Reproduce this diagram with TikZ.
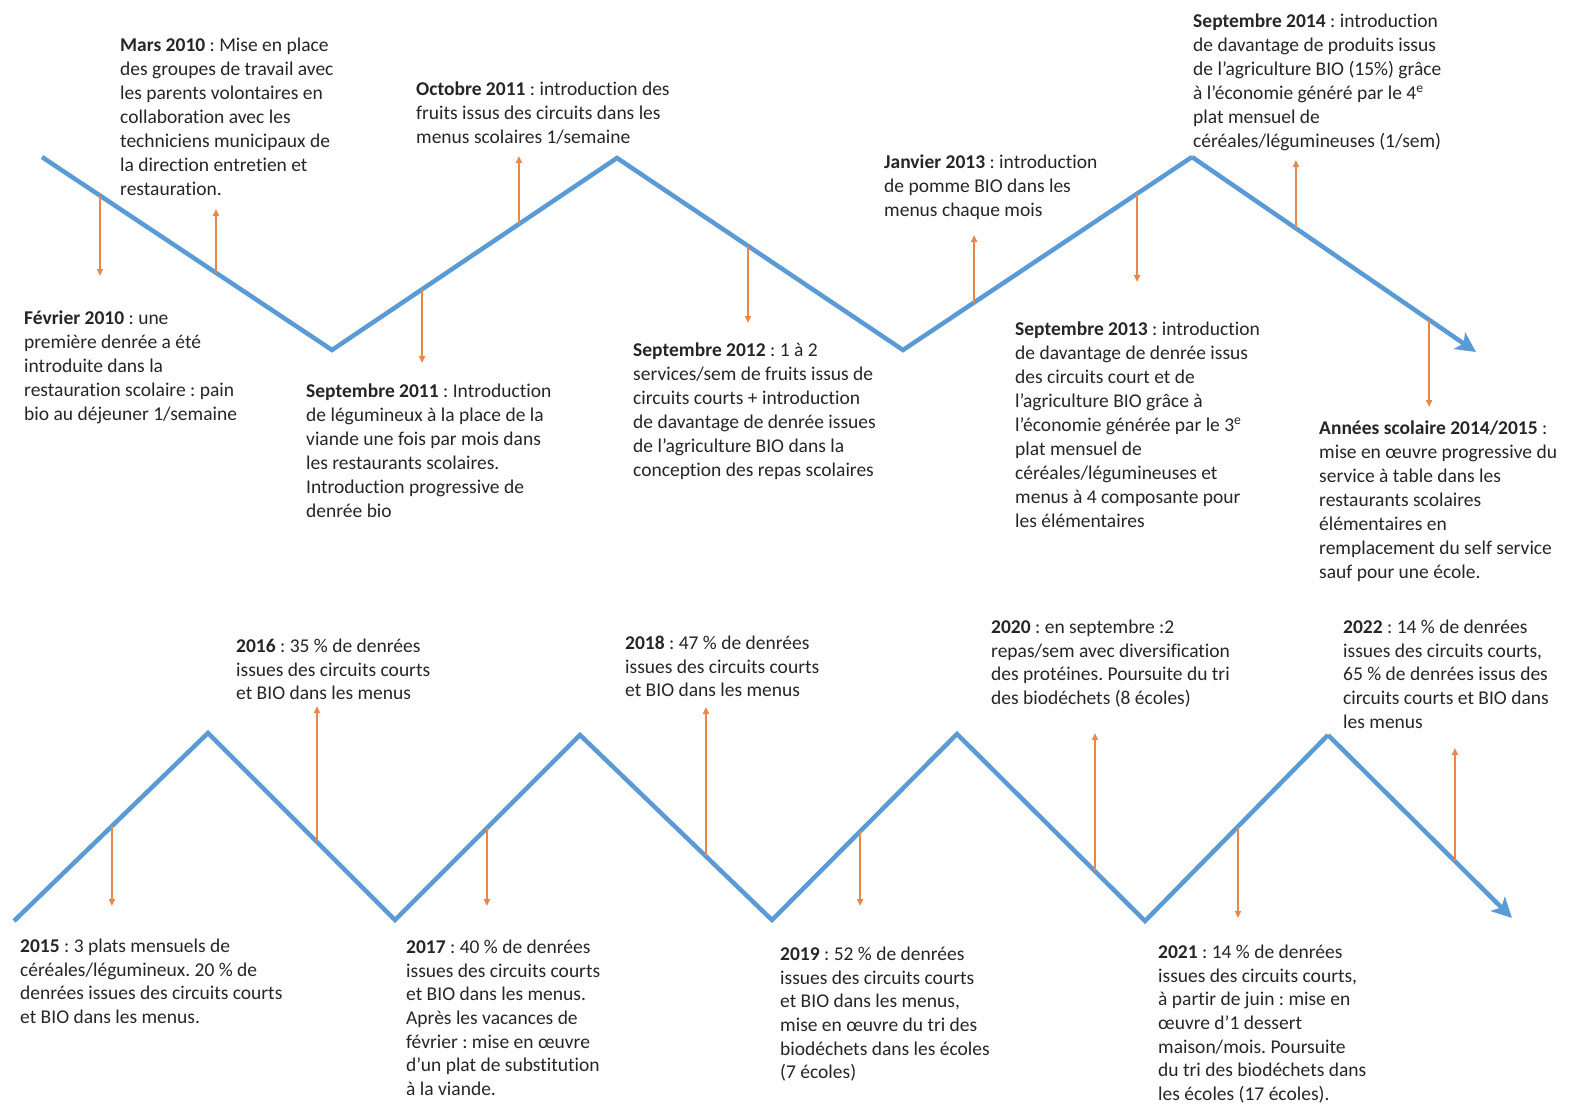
\documentclass[tikz,border=0pt]{standalone}
\usepackage{fontspec}
\setmainfont{Carlito}[Ligatures={NoCommon}]
\usetikzlibrary{arrows.meta,calc}
\definecolor{tlblue}{HTML}{5B9BD5}
\definecolor{tlorange}{HTML}{E8874A}
\definecolor{txtcol}{HTML}{262626}
\frenchspacing
\begin{document}
\begin{tikzpicture}[x=1pt,y=-1pt,
  zig/.style={draw=tlblue,line width=4.5pt,line join=miter},
  zigend/.style={zig,-{Stealth[length=20pt,width=20pt,inset=5pt]}},
  tick/.style={draw=tlorange,line width=1.8pt,-{Triangle[length=7pt,width=6pt]}},
  lbl/.style={anchor=north west,align=left,inner sep=0pt,text=txtcol,font=\fontsize{19.5}{24}\selectfont},
  lblb/.style={lbl,font=\fontsize{19.5}{23.6}\selectfont}]
\useasboundingbox[fill=white] (0,0) rectangle (1573,1108);

% top zigzag
\coordinate (t0) at (42,157);
\coordinate (t1) at (332,350);
\coordinate (t2) at (617,158);
\coordinate (t3) at (903,350);
\coordinate (t4) at (1192,157);
\coordinate (t5) at (1476,352);
\draw[zig] (t0) -- (t1) -- (t2) -- (t3) -- (t4);
\draw[zigend] (t4) -- (t5);

% bottom zigzag
\coordinate (b0) at (14,921);
\coordinate (b1) at (208,733);
\coordinate (b2) at (395,920);
\coordinate (b3) at (580,735);
\coordinate (b4) at (772,920);
\coordinate (b5) at (957,734);
\coordinate (b6) at (1145,921);
\coordinate (b7) at (1328,735);
\coordinate (b8) at (1512,918);
\draw[zig] (b0) -- (b1) -- (b2) -- (b3) -- (b4) -- (b5) -- (b6) -- (b7);
\draw[zigend] (b7) -- (b8);

% tick start points on the top line
\coordinate (ta1) at ($(t0)!0.200!(t1)$);
\coordinate (ta2) at ($(t0)!0.600!(t1)$);
\coordinate (ta3) at ($(t1)!0.316!(t2)$);
\coordinate (ta4) at ($(t1)!0.656!(t2)$);
\coordinate (ta5) at ($(t2)!0.458!(t3)$);
\coordinate (ta6) at ($(t3)!0.246!(t4)$);
\coordinate (ta7) at ($(t3)!0.810!(t4)$);
\coordinate (ta8) at ($(t4)!0.366!(t5)$);
\coordinate (ta9) at ($(t4)!0.835!(t5)$);
% tick ends
\coordinate (te1) at (ta1 |- 0,276);
\coordinate (te2) at (ta2 |- 0,209);
\coordinate (te3) at (ta3 |- 0,363);
\coordinate (te4) at (ta4 |- 0,156);
\coordinate (te5) at (ta5 |- 0,323);
\coordinate (te6) at (ta6 |- 0,235);
\coordinate (te7) at (ta7 |- 0,282);
\coordinate (te8) at (ta8 |- 0,160);
\coordinate (te9) at (ta9 |- 0,407);
\foreach \i in {1,...,9} {\draw[tick] (ta\i) -- (te\i);}

% tick start points on the bottom line
\coordinate (ba1) at ($(b0)!0.505!(b1)$);
\coordinate (ba2) at ($(b1)!0.583!(b2)$);
\coordinate (ba3) at ($(b2)!0.497!(b3)$);
\coordinate (ba4) at ($(b3)!0.656!(b4)$);
\coordinate (ba5) at ($(b4)!0.476!(b5)$);
\coordinate (ba6) at ($(b5)!0.734!(b6)$);
\coordinate (ba7) at ($(b6)!0.508!(b7)$);
\coordinate (ba8) at ($(b7)!0.690!(b8)$);
\coordinate (be1) at (ba1 |- 0,906);
\coordinate (be2) at (ba2 |- 0,706);
\coordinate (be3) at (ba3 |- 0,906);
\coordinate (be4) at (ba4 |- 0,707);
\coordinate (be5) at (ba5 |- 0,906);
\coordinate (be6) at (ba6 |- 0,733);
\coordinate (be7) at (ba7 |- 0,918);
\coordinate (be8) at (ba8 |- 0,748);
\foreach \i in {1,...,8} {\draw[tick] (ba\i) -- (be\i);}

% labels, top row
\node[lbl] (mars10) at (120,38) {\textbf{Mars 2010} : Mise en place\\des groupes de travail avec\\les parents volontaires en\\collaboration avec les\\techniciens municipaux de\\la direction entretien et\\restauration.};
\node[lbl] (oct11) at (416,82) {\textbf{Octobre 2011} : introduction des\\fruits issus des circuits dans les\\menus scolaires 1/semaine};
\node[lbl] (jan13) at (884,155) {\textbf{Janvier 2013} : introduction\\de pomme BIO dans les\\menus chaque mois};
\node[lbl] (sep14) at (1193,14) {\textbf{Septembre 2014} : introduction\\de davantage de produits issus\\de l’agriculture BIO (15\%) grâce\\à l’économie généré par le 4\textsuperscript{e}\\plat mensuel de\\céréales/légumineuses (1/sem)};
\node[lbl] (fev10) at (24,311) {\textbf{Février 2010} : une\\première denrée a été\\introduite dans la\\restauration scolaire : pain\\bio au déjeuner 1/semaine};
\node[lbl] (sep11) at (306,384) {\textbf{Septembre 2011} : Introduction\\de légumineux à la place de la\\viande une fois par mois dans\\les restaurants scolaires.\\Introduction progressive de\\denrée bio};
\node[lbl] (sep12) at (633,343) {\textbf{Septembre 2012} : 1 à 2\\services/sem de fruits issus de\\circuits courts + introduction\\de davantage de denrée issues\\de l’agriculture BIO dans la\\conception des repas scolaires};
\node[lbl] (sep13) at (1015,322) {\textbf{Septembre 2013} : introduction\\de davantage de denrée issus\\des circuits court et de\\l’agriculture BIO grâce à\\l’économie générée par le 3\textsuperscript{e}\\plat mensuel de\\céréales/légumineuses et\\menus à 4 composante pour\\les élémentaires};
\node[lbl] (an1415) at (1319,421) {\textbf{Années scolaire 2014/2015} :\\mise en œuvre progressive du\\service à table dans les\\restaurants scolaires\\élémentaires en\\remplacement du self service\\sauf pour une école.};

% labels, bottom row
\node[lblb] (y2016) at (236,639) {\textbf{2016} : 35 \% de denrées\\issues des circuits courts\\et BIO dans les menus};
\node[lblb] (y2018) at (625,636) {\textbf{2018} : 47 \% de denrées\\issues des circuits courts\\et BIO dans les menus};
\node[lblb] (y2020) at (991,620) {\textbf{2020} : en septembre :2\\repas/sem avec diversification\\des protéines. Poursuite du tri\\des biodéchets (8 écoles)};
\node[lblb] (y2022) at (1343,620) {\textbf{2022} : 14 \% de denrées\\issues des circuits courts,\\65 \% de denrées issus des\\circuits courts et BIO dans\\les menus};
\node[lblb] (y2015) at (20,939) {\textbf{2015} : 3 plats mensuels de\\céréales/légumineux. 20 \% de\\denrées issues des circuits courts\\et BIO dans les menus.};
\node[lblb] (y2017) at (406,940) {\textbf{2017} : 40 \% de denrées\\issues des circuits courts\\et BIO dans les menus.\\Après les vacances de\\février : mise en œuvre\\d’un plat de substitution\\à la viande.};
\node[lblb] (y2019) at (780,947) {\textbf{2019} : 52 \% de denrées\\issues des circuits courts\\et BIO dans les menus,\\mise en œuvre du tri des\\biodéchets dans les écoles\\(7 écoles)};
\node[lblb] (y2021) at (1158,945) {\textbf{2021} : 14 \% de denrées\\issues des circuits courts,\\à partir de juin : mise en\\œuvre d’1 dessert\\maison/mois. Poursuite\\du tri des biodéchets dans\\les écoles (17 écoles).};
\end{tikzpicture}
\end{document}
